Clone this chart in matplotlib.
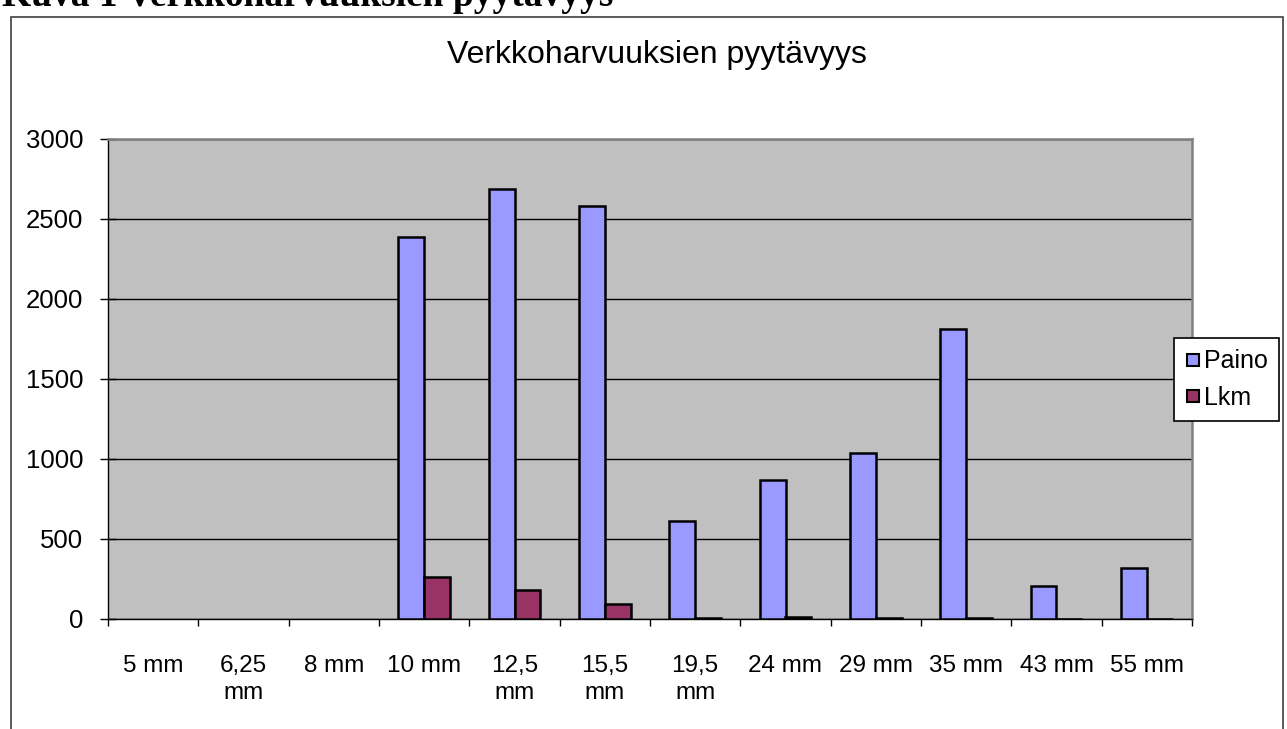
import numpy as np
import matplotlib
matplotlib.use("Agg")
import matplotlib.pyplot as plt
from matplotlib.patches import Rectangle
from matplotlib.lines import Line2D

plt.rcParams["font.family"] = ["Liberation Sans", "DejaVu Sans"]

labels = ["5 mm", "6,25\nmm", "8 mm", "10 mm", "12,5\nmm", "15,5\nmm", "19,5\nmm",
          "24 mm", "29 mm", "35 mm", "43 mm", "55 mm"]
paino = [0, 0, 0, 2385, 2690, 2580, 610, 870, 1040, 1815, 205, 320]
lkm = [0, 0, 0, 265, 180, 92, 4, 10, 4, 5, 2, 2]
yticks = [0, 500, 1000, 1500, 2000, 2500, 3000]

W, H = 1287, 729
fig = plt.figure(figsize=(W / 100, H / 100), dpi=100)

# header text cut off at the top of the page
fig.text(2 / W, 1 - 6 / H, "Kuva 1 Verkkoharvuuksien pyytävyys", family=["Liberation Serif"],
         fontweight="bold", fontsize=27, ha="left", va="baseline")

# chart area frame
fig.patches.append(Rectangle((11 / W, -0.05), (1283 - 11) / W, 1 - 17 / H + 0.05,
                             transform=fig.transFigure, fill=False, ec="#404040", lw=1.2))

ax = fig.add_axes([108 / W, (H - 619) / H, 1084 / W, 480 / H])
ax.set_facecolor("#C0C0C0")
x = np.arange(len(labels))
w = 0.286
p = np.array(paino, float)
k = np.array(lkm, float)
ax.bar(x[p > 0] - w / 2, p[p > 0], w, color="#9999FF", edgecolor="black", lw=1.8, zorder=3)
ax.bar(x[k > 0] + w / 2, k[k > 0], w, color="#993366", edgecolor="black", lw=1.8, zorder=3)

ax.set_xlim(-0.5, len(labels) - 0.5)
ax.set_ylim(0, 3000)
ax.set_yticks(yticks)
ax.yaxis.grid(True, color="black", lw=1.0, zorder=1)
ax.tick_params(axis="y", direction="inout", length=11.5, width=1, labelsize=18.5, pad=12)
ax.set_xticks(x)
ax.set_xticklabels(labels, fontsize=17.5, linespacing=1.28)
ax.set_xticks(np.arange(len(labels) + 1) - 0.5, minor=True)
ax.tick_params(axis="x", which="major", length=0, pad=26)
ax.tick_params(axis="x", which="minor", direction="out", length=5, width=1)
for s in ("top", "right"):
    ax.spines[s].set_color("#808080")
    ax.spines[s].set_linewidth(1.8)
for s in ("left", "bottom"):
    ax.spines[s].set_color("black")
    ax.spines[s].set_linewidth(1.0)

fig.text(657 / W, 1 - 55 / H, "Verkkoharvuuksien pyytävyys", fontsize=23, ha="center", va="center")

handles = [Line2D([], [], ls="none", marker="s", ms=9, mfc="#9999FF", mec="black", mew=1.5),
           Line2D([], [], ls="none", marker="s", ms=9, mfc="#993366", mec="black", mew=1.5)]
leg = fig.legend(handles, ["Paino", "Lkm"], loc="upper left", bbox_to_anchor=(1174 / W, 1 - 338 / H),
                 fontsize=18, frameon=True, fancybox=False, edgecolor="black", framealpha=1,
                 handlelength=0.6, handletextpad=0.15, borderpad=0.45, labelspacing=0.5,
                 borderaxespad=0)
leg.get_frame().set_linewidth(1.2)

fig.savefig("out.png", dpi=100)
